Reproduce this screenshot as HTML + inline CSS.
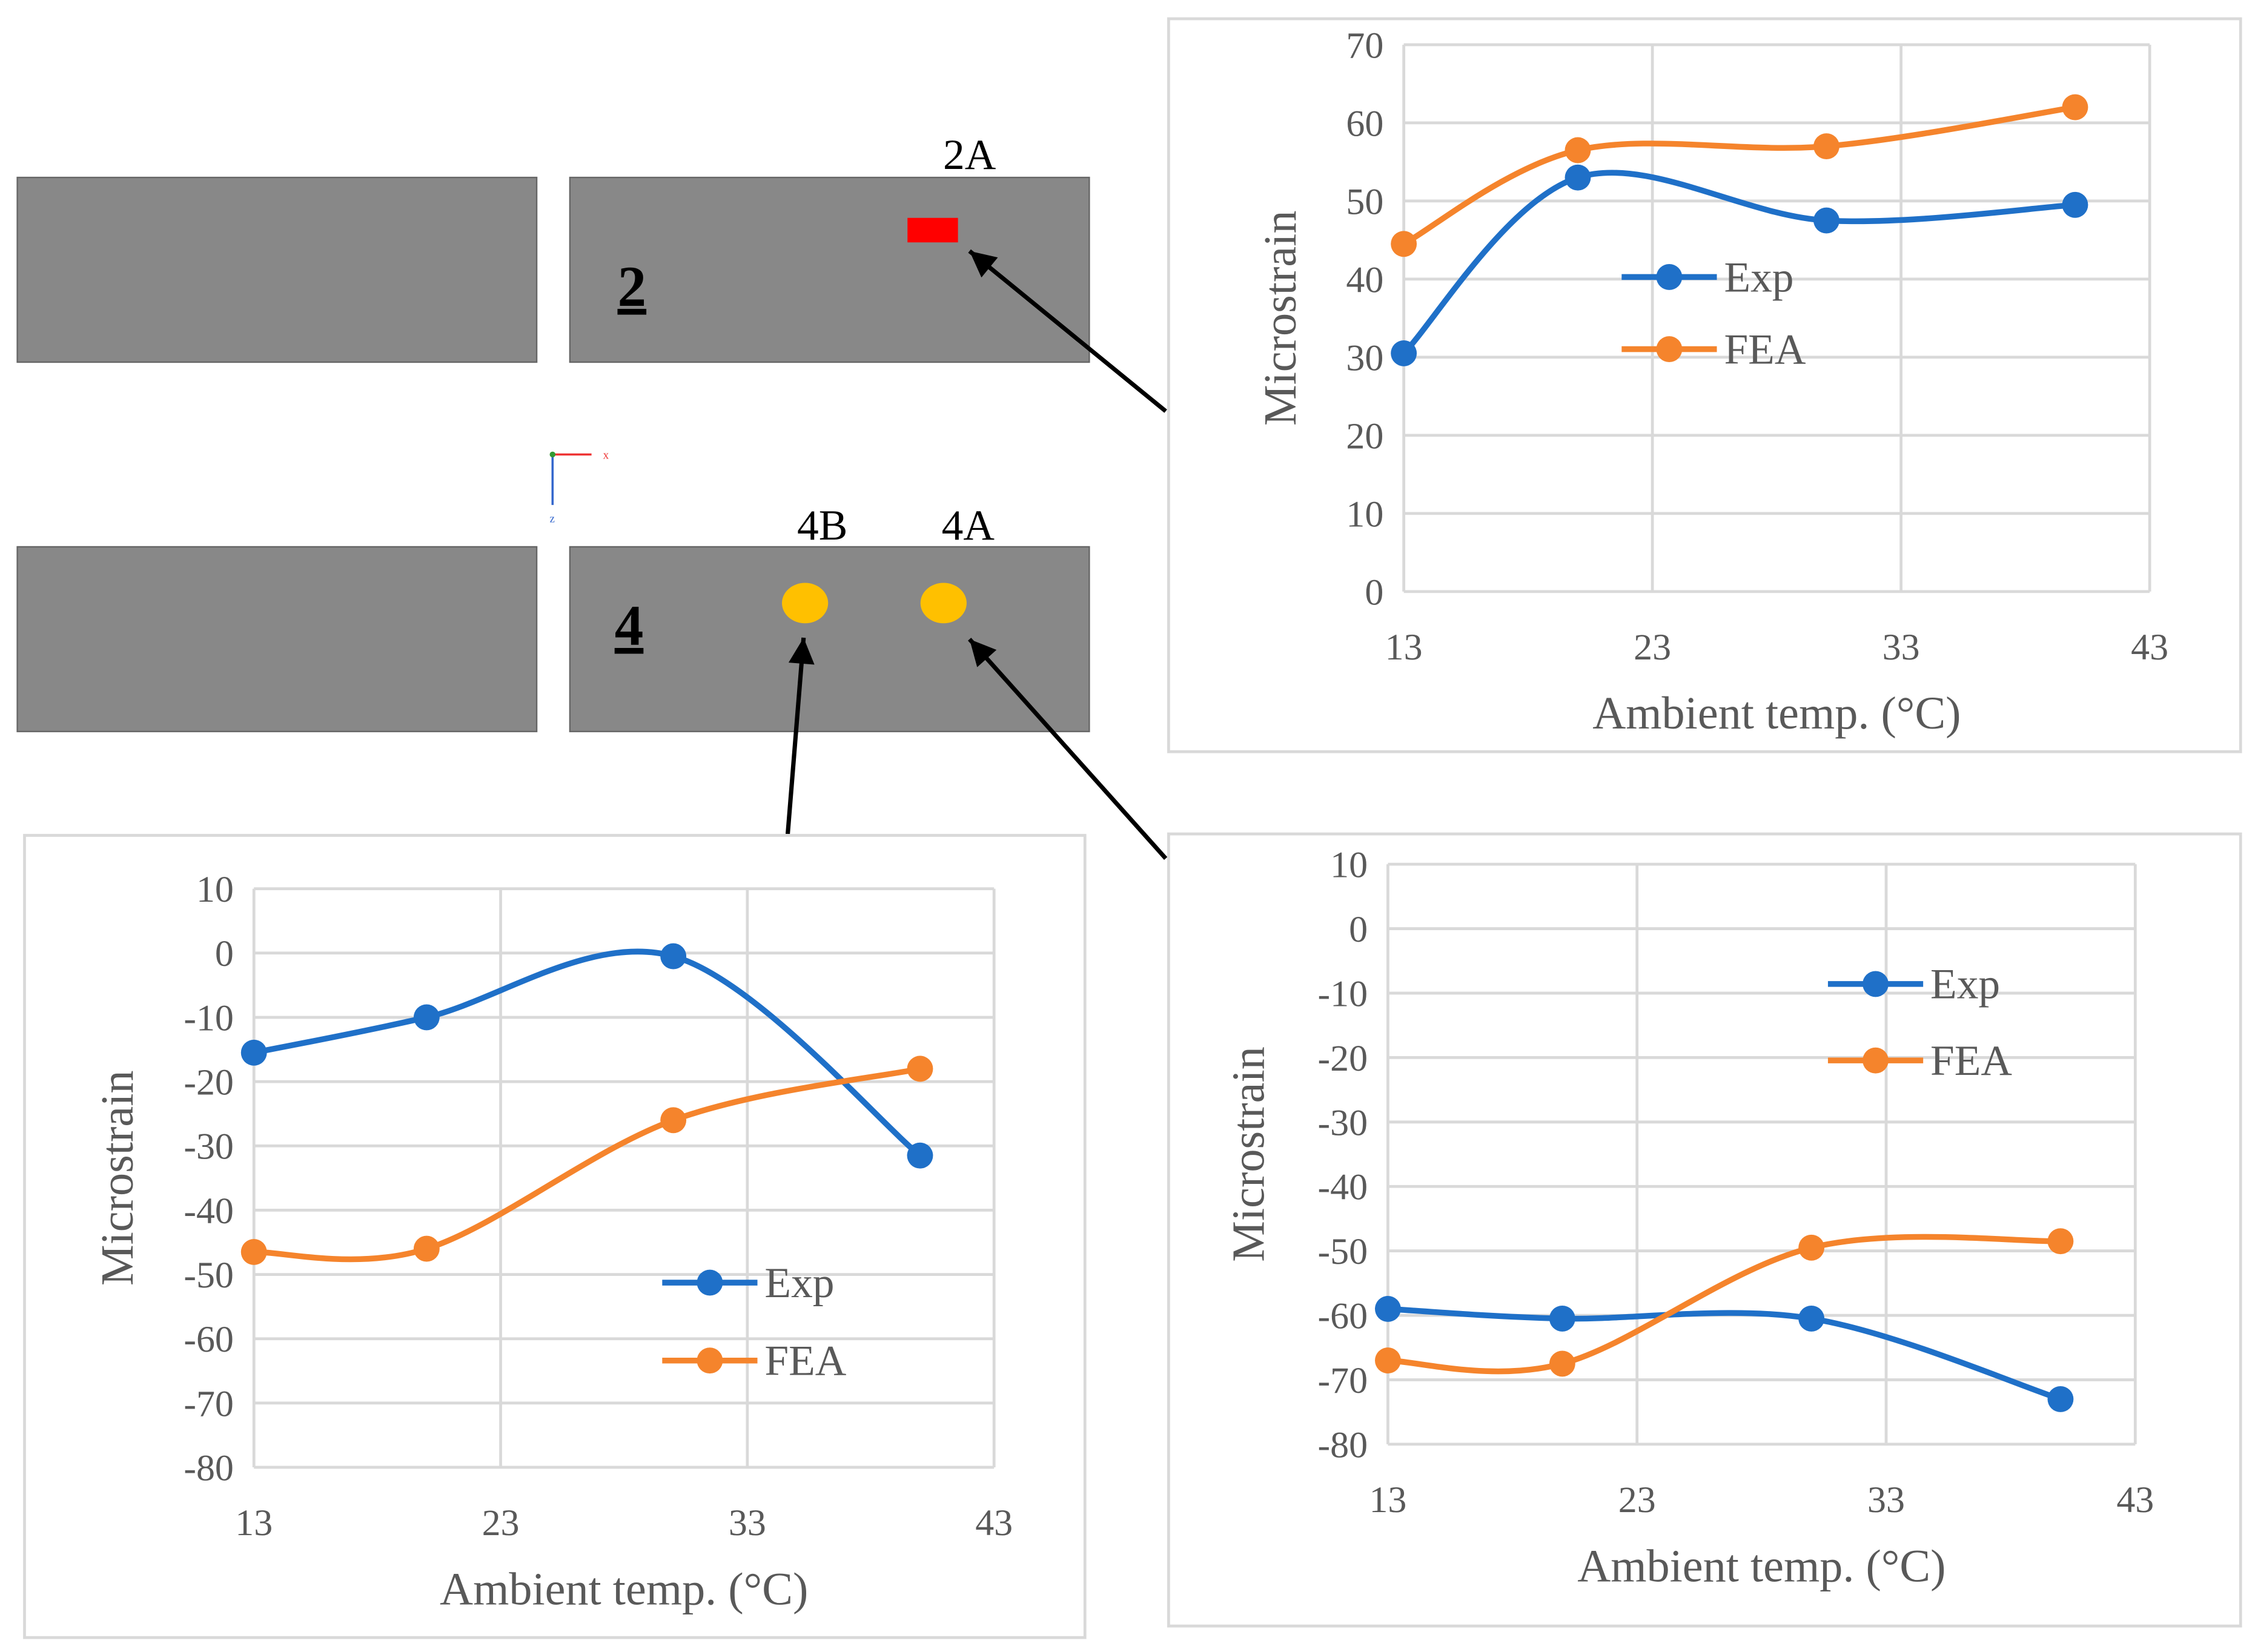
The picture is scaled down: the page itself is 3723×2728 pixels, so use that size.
<!DOCTYPE html>
<html><head><meta charset="utf-8"><style>
html,body{margin:0;padding:0;background:#fff}
svg{display:block}
text{font-family:"Liberation Serif",serif}
</style></head><body>
<svg id="root" width="3723" height="2728" viewBox="0 0 1563 1145" preserveAspectRatio="none" xmlns="http://www.w3.org/2000/svg">
<defs><marker id="ah" markerWidth="10" markerHeight="10" refX="9" refY="5" orient="auto" markerUnits="userSpaceOnUse"><path d="M0,0 L22,5 L0,10 z" transform="scale(1)"/></marker>
<marker id="ah2" viewBox="0 0 10 10" markerWidth="22" markerHeight="18" refX="10" refY="5" orient="auto" markerUnits="userSpaceOnUse"><path d="M0,0 L10,5 L0,10 z" fill="#000"/></marker></defs>
<g>
<rect x="12" y="123" width="360" height="128" fill="#888" stroke="#666"/>
<rect x="395" y="123" width="360" height="128" fill="#888" stroke="#666"/>
<rect x="629" y="151" width="35" height="17" fill="#f00"/>
<text x="672" y="117" font-size="30" text-anchor="middle">2A</text>
<text x="438" y="212" font-size="40" font-weight="bold" text-anchor="middle" text-decoration="underline">2</text>
<rect x="12" y="379" width="360" height="128" fill="#888" stroke="#666"/>
<rect x="395" y="379" width="360" height="128" fill="#888" stroke="#666"/>
<ellipse cx="558" cy="418" rx="16" ry="14" fill="#FFC000"/>
<ellipse cx="654" cy="418" rx="16" ry="14" fill="#FFC000"/>
<text x="570" y="374" font-size="30" text-anchor="middle">4B</text>
<text x="671" y="374" font-size="30" text-anchor="middle">4A</text>
<text x="436" y="447" font-size="40" font-weight="bold" text-anchor="middle" text-decoration="underline">4</text>
<g>
<line x1="383" y1="315" x2="410" y2="315" stroke="#e33" stroke-width="1.5"/><line x1="383" y1="315" x2="383" y2="350" stroke="#36c" stroke-width="1.5"/><circle cx="383" cy="315" r="2" fill="#393"/>
<text x="418" y="318" font-size="8" fill="#e33">x</text><text x="381" y="362" font-size="8" fill="#36c">z</text></g>
<line x1="808" y1="285" x2="672" y2="174" stroke="#000" stroke-width="3" marker-end="url(#ah2)"/>
<line x1="546" y1="578" x2="557" y2="442" stroke="#000" stroke-width="3" marker-end="url(#ah2)"/>
<line x1="808" y1="595" x2="672" y2="443" stroke="#000" stroke-width="3" marker-end="url(#ah2)"/>
</g>
<g id="charts"></g>
</svg>
<script>
const xValues=[13,20,30,40];
const xTicks=[13,23,33,43];
const c1Exp=[30.5,53,47.5,49.5];
const c1Fea=[44.5,56.5,57,62];
const c1Ticks=[0,10,20,30,40,50,60,70];
const c2Exp=[-15.5,-10,-0.5,-31.5];
const c2Fea=[-46.5,-46,-26,-18];
const c3Exp=[-59,-60.5,-60.5,-73];
const c3Fea=[-67,-67.5,-49.5,-48.5];
const negTicks=[10,0,-10,-20,-30,-40,-50,-60,-70,-80];
const NS='http://www.w3.org/2000/svg';
const BLUE='#1F70C8',ORANGE='#F5842C',GREY='#595959';
function mk(tag,at,parent){const e=document.createElementNS(NS,tag);for(const k in at)e.setAttribute(k,at[k]);parent.appendChild(e);return e;}
function smooth(p){let d='M'+p[0][0]+','+p[0][1];for(let i=0;i<p.length-1;i++){const p0=p[i-1]||p[i],p1=p[i],p2=p[i+1],p3=p[i+2]||p2;const t=1/6;
d+=' C'+(p1[0]+(p2[0]-p0[0])*t)+','+(p1[1]+(p2[1]-p0[1])*t)+' '+(p2[0]-(p3[0]-p1[0])*t)+','+(p2[1]-(p3[1]-p1[1])*t)+' '+p2[0]+','+p2[1];}return d;}
function chart(cfg){
const root=document.getElementById('charts');
const g=mk('g',{},root);


const fr=mk('rect',{x:cfg.fx,y:cfg.fy,width:cfg.fw,height:cfg.fh,fill:'#fff',stroke:'#d9d9d9','stroke-width':2},g);


const ymin=Math.min(...cfg.ticks),ymax=Math.max(...cfg.ticks);
const X=v=>cfg.px0+(v-13)/(43-13)*(cfg.px1-cfg.px0);
const Y=v=>cfg.py1-(v-ymin)/(ymax-ymin)*(cfg.py1-cfg.py0);
cfg.ticks.forEach(t=>{const l=mk('line',{x1:cfg.px0,x2:cfg.px1,y1:Y(t),y2:Y(t),stroke:'#d9d9d9','stroke-width':2},g);


const tx=mk('text',{x:cfg.px0-14,y:Y(t)+9,'font-size':26,fill:GREY,'text-anchor':'end'},g);tx.textContent=t;

});
xTicks.forEach(t=>{const l=mk('line',{x1:X(t),x2:X(t),y1:cfg.py0,y2:cfg.py1,stroke:'#d9d9d9','stroke-width':2},g);


const tx=mk('text',{x:X(t),y:cfg.py1+47,'font-size':26,fill:GREY,'text-anchor':'middle'},g);tx.textContent=t;

});
const xt=mk('text',{x:(cfg.px0+cfg.px1)/2,y:cfg.py1+95,'font-size':32,fill:GREY,'text-anchor':'middle'},g);xt.textContent='Ambient temp. (°C)';


const yt=mk('text',{x:0,y:0,'font-size':32,fill:GREY,'text-anchor':'middle',transform:'translate('+(cfg.ytx)+','+((cfg.py0+cfg.py1)/2)+') rotate(-90)'},g);yt.textContent='Microstrain';


[[cfg.exp,BLUE,'exp'],[cfg.fea,ORANGE,'fea']].forEach(([vals,col,nm])=>{
const pts=vals.map((v,i)=>[X(xValues[i]),Y(v)]);
const p=mk('path',{d:smooth(pts),fill:'none',stroke:col,'stroke-width':4},g);


pts.forEach(q=>{const c=mk('circle',{cx:q[0],cy:q[1],r:9,fill:col},g);

});});
[['Exp',BLUE,cfg.ly],['FEA',ORANGE,cfg.ly+cfg.lgap]].forEach(([lab,col,y])=>{
const lg=mk('g',{},g);


mk('line',{x1:cfg.lx,x2:cfg.lx+66,y1:y,y2:y,stroke:col,'stroke-width':4},lg);
mk('circle',{cx:cfg.lx+33,cy:y,r:9,fill:col},lg);
const t=mk('text',{x:cfg.lx+71,y:y+10,'font-size':30,fill:GREY},lg);t.textContent=lab;});
}
chart({name:'chart-gauge-2a',fx:810,fy:13,fw:743,fh:508,px0:973,px1:1490,py0:31,py1:410,ticks:c1Ticks,exp:c1Exp,fea:c1Fea,lx:1124,ly:192,lgap:50,ytx:898});
chart({name:'chart-gauge-4b',fx:17,fy:579,fw:735,fh:556,px0:176,px1:689,py0:616,py1:1017,ticks:negTicks,exp:c2Exp,fea:c2Fea,lx:459,ly:889,lgap:54,ytx:92});
chart({name:'chart-gauge-4a',fx:810,fy:578,fw:743,fh:549,px0:962,px1:1480,py0:599,py1:1001,ticks:negTicks,exp:c3Exp,fea:c3Fea,lx:1267,ly:682,lgap:53,ytx:876});
</script>
</body></html>
